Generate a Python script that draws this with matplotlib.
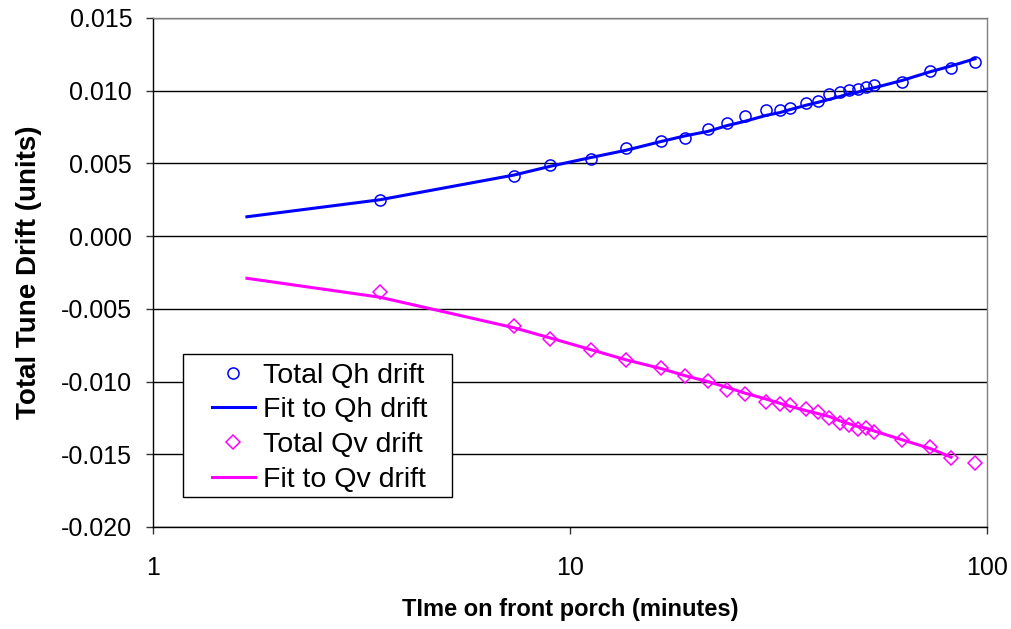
import numpy as np
import matplotlib
matplotlib.use("Agg")
import matplotlib.pyplot as plt
from matplotlib.patches import Rectangle

plt.rcParams['font.family'] = ['Liberation Sans', 'DejaVu Sans']

# time on front porch (minutes)
t_data = [3.5, 7.34, 8.96, 11.2, 13.6, 16.5, 18.9, 21.4, 23.8, 26.3, 29.5, 31.9,
          33.7, 36.8, 39.3, 41.8, 44.4, 46.7, 49.1, 51.3, 53.6, 62.5, 73.0, 82.0, 93.6]
qh_data = [0.00248, 0.00413, 0.00488, 0.0053, 0.00605, 0.00653, 0.00674, 0.00736,
           0.00777, 0.00825, 0.00867, 0.0087, 0.0088, 0.00915, 0.00928, 0.00977,
           0.0099, 0.01004, 0.0101, 0.01025, 0.01038, 0.0106, 0.01135, 0.01155, 0.01197]
qv_data = [-0.00385, -0.0062, -0.00708, -0.00784, -0.00853, -0.00908, -0.00963,
           -0.00997, -0.0106, -0.01087, -0.01142, -0.01155, -0.01162, -0.0119,
           -0.0121, -0.0125, -0.01286, -0.013, -0.01327, -0.0132, -0.01348,
           -0.01403, -0.01451, -0.01527, -0.01561]

# fitted curves
t_fit = [1.68, 3.5, 7.34, 8.96, 11.2, 13.6, 16.5, 18.9, 21.4, 23.8, 26.3, 29.5, 31.9,
         33.7, 36.8, 39.3, 41.8, 44.4, 46.7, 49.1, 51.3, 53.6, 62.5, 73.0, 82.0, 93.6]
qh_fit = [0.00133, 0.0025, 0.0042, 0.0048, 0.0054, 0.0059, 0.0065, 0.0069, 0.0072,
          0.0076, 0.0079, 0.0083, 0.0085, 0.0087, 0.0090, 0.0092, 0.0094, 0.0096,
          0.0098, 0.0099, 0.0101, 0.0102, 0.0107, 0.0113, 0.0117, 0.0122]
qv_fit = [-0.0029, -0.0042, -0.0063, -0.0070, -0.0078, -0.0085, -0.0091, -0.0096,
          -0.0100, -0.0104, -0.0108, -0.0112, -0.0115, -0.0117, -0.0120, -0.0122,
          -0.0124, -0.0127, -0.0129, -0.0131, -0.0132, -0.0134, -0.0140, -0.0146, -0.0152]

y_ticks = [-0.020, -0.015, -0.010, -0.005, 0.000, 0.005, 0.010, 0.015]

fig = plt.figure(figsize=(10.11, 6.29), dpi=100)
ax = fig.add_axes([0.1513, 0.1622, 0.8250, 0.8092])

blue = '#0000ff'
pink = '#ff00ff'

ax.plot(t_data, qh_data, 'o', mfc='none', mec=blue, ms=8, mew=1.1, label='Total Qh drift')
ax.plot(t_fit, qh_fit, '-', color=blue, lw=2.2, label='Fit to Qh drift')
ax.plot(t_data, qv_data, 'D', mfc='none', mec=pink, ms=7.3, mew=1.1, label='Total Qv drift')
ax.plot(t_fit[:len(qv_fit)], qv_fit, '-', color=pink, lw=2.2, label='Fit to Qv drift')

ax.set_xscale('log')
ax.set_xlim(1, 100)
ax.set_ylim(-0.020, 0.015)
ax.set_xticks([1, 10, 100])
ax.set_xticklabels(['1', '10', '100'])
ax.xaxis.set_minor_locator(matplotlib.ticker.NullLocator())
ax.set_yticks(y_ticks)
ax.set_yticklabels(['%.3f' % v for v in y_ticks])
ax.yaxis.grid(True, color='black', lw=1)
ax.set_axisbelow(True)

ax.tick_params(axis='both', labelsize=18, direction='out', length=5, width=1, color='#333333')
ax.tick_params(axis='y', pad=10)
ax.tick_params(axis='x', pad=16)
ax.spines['top'].set_color('#808080')
ax.spines['right'].set_color('#808080')
for s in ax.spines.values():
    s.set_linewidth(1)

ax.set_xlabel('TIme on front porch (minutes)', fontsize=17, fontweight='bold', labelpad=13)
ax.set_ylabel('Total Tune Drift (units)', fontsize=20, fontweight='bold', labelpad=14)

# legend box drawn separately so its padding matches the original
ax.add_patch(Rectangle((0.036, 0.059), 0.3225, 0.281, transform=ax.transAxes,
                       facecolor='white', edgecolor='black', lw=1, zorder=4))
leg = ax.legend(loc='upper left', bbox_to_anchor=(0.0707, 0.323), borderaxespad=0,
                fontsize=20.5, frameon=False, handlelength=1.5, handletextpad=0.3,
                labelspacing=0.31, borderpad=0)
leg.set_zorder(5)

fig.savefig('out.png', dpi=100)
